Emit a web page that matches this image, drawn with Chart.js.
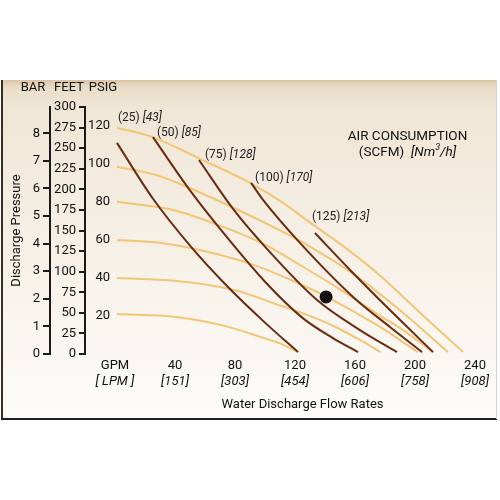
<!DOCTYPE html>
<html><head><meta charset="utf-8">
<script src="https://cdn.jsdelivr.net/npm/chart.js@4/dist/chart.umd.min.js"></script>
<style>html,body{margin:0;padding:0;background:#fff}canvas{display:block}</style>
</head><body>
<canvas id="c" width="500" height="500"></canvas>
<script>
// ---- tick labels / categories ----
const flowGpm = [0, 40, 80, 120, 160, 200, 240];
const flowLpm = ['[ LPM ]', '[151]', '[303]', '[454]', '[606]', '[758]', '[908]'];
const airScfm = ['(25)', '(50)', '(75)', '(100)', '(125)'];
const airNm3 = ['[43]', '[85]', '[128]', '[170]', '[213]'];

// ---- inlet air pressure curves (GPM, PSIG) ----
const psi20_gpm = [1.3, 41, 75, 97, 110, 122];
const psi20_psi = [21, 19.5, 14.4, 8.9, 5.6, 1];
const psi40_gpm = [1.3, 40, 80, 110, 125, 145, 163, 177];
const psi40_psi = [40, 38.5, 33.5, 25.5, 21.5, 15, 7.5, 1];
const psi60_gpm = [1.3, 30, 60, 90, 120, 145, 175, 202];
const psi60_psi = [60, 58.5, 54, 47.5, 38, 28.5, 15, 1];
const psi80_gpm = [1.3, 40, 70, 100, 125, 150, 175, 195, 212];
const psi80_psi = [80, 75.5, 67.5, 57.5, 46, 34, 21, 11, 1];
const psi100_gpm = [1.3, 30, 52, 80, 110, 130, 160, 190, 222];
const psi100_psi = [98.5, 93.5, 86.5, 76.5, 65, 56.5, 41.5, 23, 1];
const psi120_gpm = [1.3, 25, 57, 90, 110, 132, 155, 177, 203, 232];
const psi120_psi = [119, 114, 102.5, 90, 80.5, 68, 55, 41, 22, 1];

// ---- air consumption curves (GPM, PSIG) ----
const air25_gpm = [1.3, 25, 50, 75, 100, 122];
const air25_psi = [111, 82, 57, 35.5, 16.5, 1];
const air50_gpm = [25.3, 50, 75, 100, 125, 145, 162];
const air50_psi = [114, 86, 61, 38, 19, 8.5, 1];
const air75_gpm = [56, 78.7, 101.3, 134.7, 163.3, 188];
const air75_psi = [102, 76.3, 55.3, 28.4, 12.6, 1];
const air100_gpm = [90.7, 98.7, 123.3, 158.7, 183.3, 204.7];
const air100_psi = [90, 81, 58.4, 30, 14.2, 1];
const air125_gpm = [133.3, 156.7, 183.3, 212];
const air125_psi = [63.6, 44.2, 23.1, 1];

// ---- example duty point ----
const duty_gpm = [140.7];
const duty_psi = [30];

// ---- unit conversions ----
const FEET_MAX = 300;
const PSI_MAX = FEET_MAX / 2.31;
const BAR_MAX = PSI_MAX / 14.5038;

const FAM = '"Liberation Sans Narrow", "Arial Narrow", Roboto, "Liberation Sans", sans-serif';
Chart.defaults.font.family = FAM;
Chart.defaults.font.size = 13;
Chart.defaults.color = '#111';

const pts = (xs, ys) => xs.map((x, i) => ({x: x, y: ys[i]}));
const BROWN = '#6b2b10';
const YELLOW = '#f2c674';

const airSets = [[air25_gpm, air25_psi], [air50_gpm, air50_psi], [air75_gpm, air75_psi], [air100_gpm, air100_psi], [air125_gpm, air125_psi]];
const psiSets = [[psi20_gpm, psi20_psi], [psi40_gpm, psi40_psi], [psi60_gpm, psi60_psi], [psi80_gpm, psi80_psi], [psi100_gpm, psi100_psi], [psi120_gpm, psi120_psi]];

const datasets = [];
datasets.push({label: 'duty', data: pts(duty_gpm, duty_psi), xAxisID: 'x', yAxisID: 'y', showLine: false, pointRadius: 6.5, pointBackgroundColor: '#111', pointBorderWidth: 0, order: 0});
airSets.forEach((s, i) => datasets.push({label: airScfm[i], data: pts(s[0], s[1]), xAxisID: 'x', yAxisID: 'y', borderColor: BROWN, borderWidth: 2, pointRadius: 0, cubicInterpolationMode: 'monotone', order: 1}));
psiSets.forEach((s, i) => datasets.push({label: 'psi' + i, data: pts(s[0], s[1]), xAxisID: 'x', yAxisID: 'y', borderColor: YELLOW, borderWidth: 2, pointRadius: 0, cubicInterpolationMode: 'monotone', order: 2}));

const decor = {
  id: 'decor',
  beforeDraw(chart) {
    const ctx = chart.ctx;
    ctx.save();
    const g = ctx.createLinearGradient(0, 80, 0, 420);
    g.addColorStop(0, '#e9dbc4');
    g.addColorStop(0.08, '#f0e6d6');
    g.addColorStop(0.5, '#f6f0e7');
    g.addColorStop(1, '#fdfcfa');
    ctx.fillStyle = g;
    ctx.fillRect(2, 80, 495, 339);
    const t = ctx.createLinearGradient(0, 80, 0, 90);
    t.addColorStop(0, '#d8c3a3');
    t.addColorStop(1, 'rgba(232,218,196,0)');
    ctx.fillStyle = t;
    ctx.fillRect(2, 80, 495, 10);
    ctx.fillStyle = '#3a2e24';
    ctx.fillRect(1, 80, 2, 340);
    ctx.fillStyle = '#1e1e1e';
    ctx.fillRect(1, 418, 496, 2);
    ctx.fillStyle = '#d9d4cc';
    ctx.fillRect(496, 80, 1, 339);
    ctx.restore();
  },
  afterDatasetsDraw(chart) {
    const ctx = chart.ctx;
    const sx = chart.scales.x, sy = chart.scales.y;
    const ca = chart.chartArea;
    ctx.save();
    ctx.fillStyle = '#111';
    ctx.textBaseline = 'middle';
    ctx.textAlign = 'center';
    ctx.font = '13px ' + FAM;
    ctx.fillText('BAR', chart.scales.bar.right - 17, ca.top - 19);
    ctx.fillText('FEET', chart.scales.feet.right - 16, ca.top - 19);
    ctx.fillText('PSIG', chart.scales.y.right - 12, ca.top - 19);

    // air consumption labels next to each curve start
    const offs = [[1, -25], [4, -4], [6, -5], [4, -5], [-3, -16]];
    ctx.textAlign = 'left';
    airSets.forEach((s, i) => {
      const px = sx.getPixelForValue(s[0][0]) + offs[i][0];
      const py = sy.getPixelForValue(s[1][0]) + offs[i][1];
      ctx.font = '12px ' + FAM;
      ctx.fillStyle = '#222';
      ctx.fillText(airScfm[i], px, py);
      const w = ctx.measureText(airScfm[i] + ' ').width;
      ctx.font = 'italic 12px ' + FAM;
      ctx.fillText(airNm3[i], px + w, py);
    });

    // legend-like title
    const cx = sx.getPixelForValue(195);
    ctx.textAlign = 'center';
    ctx.font = '13.5px ' + FAM;
    ctx.fillStyle = '#111';
    ctx.fillText('AIR CONSUMPTION', cx, ca.top + 30);
    const y2 = ca.top + 46;
    const a = '(SCFM)  ';
    const wa = ctx.measureText(a).width;
    ctx.font = 'italic 13.5px ' + FAM;
    const b1 = '[Nm', b2 = '/h]';
    const wb1 = ctx.measureText(b1).width, wb2 = ctx.measureText(b2).width;
    ctx.font = 'italic 9px ' + FAM;
    const w3 = ctx.measureText('3').width;
    const total = wa + wb1 + w3 + wb2;
    let x0 = cx - total / 2;
    ctx.textAlign = 'left';
    ctx.font = '13.5px ' + FAM;
    ctx.fillText(a, x0, y2); x0 += wa;
    ctx.font = 'italic 13.5px ' + FAM;
    ctx.fillText(b1, x0, y2); x0 += wb1;
    ctx.font = 'italic 9px ' + FAM;
    ctx.fillText('3', x0, y2 - 5); x0 += w3;
    ctx.font = 'italic 13.5px ' + FAM;
    ctx.fillText(b2, x0, y2);
    ctx.restore();
  }
};

const flowTicks = s => { s.ticks = flowGpm.map(v => ({value: v})); };

new Chart(document.getElementById('c'), {
  type: 'line',
  data: {datasets: datasets},
  plugins: [decor],
  options: {
    responsive: false,
    animation: false,
    devicePixelRatio: 1,
    layout: {padding: {left: 0, top: 107, right: 10, bottom: 84}},
    plugins: {legend: {display: false}, tooltip: {enabled: false}},
    scales: {
      x: {
        type: 'linear', position: 'bottom', min: 0, max: 250, weight: 1,
        afterBuildTicks: flowTicks,
        afterFit: s => { s.height = 18; },
        grid: {display: false, drawTicks: false},
        border: {display: false},
        ticks: {padding: 4, color: '#111', maxRotation: 0, autoSkip: false,
          callback: v => v === 0 ? 'GPM' : String(v)}
      },
      x2: {
        type: 'linear', position: 'bottom', min: 0, max: 250, weight: 2,
        afterBuildTicks: flowTicks,
        afterFit: s => { s.height = 44; },
        grid: {display: false, drawTicks: false},
        border: {display: false},
        ticks: {padding: 2, font: {style: 'italic'}, color: '#111', maxRotation: 0, autoSkip: false,
          callback: (v, i) => flowLpm[i]},
        title: {display: true, text: 'Water Discharge Flow Rates', color: '#111', padding: {top: 0, bottom: 3}}
      },
      bar: {
        type: 'linear', position: 'left', min: 0, max: BAR_MAX, weight: 3,
        afterFit: s => { s.width = 50; },
        grid: {display: true, drawOnChartArea: false, drawTicks: true, tickLength: 7, color: '#1a1a1a', lineWidth: 2},
        border: {display: true, color: '#1a1a1a', width: 2},
        ticks: {stepSize: 1, includeBounds: false, padding: 3, color: '#111'},
        title: {display: true, text: 'Discharge Pressure', color: '#111', padding: {top: 9, bottom: 0}}
      },
      feet: {
        type: 'linear', position: 'left', min: 0, max: FEET_MAX, weight: 2,
        afterFit: s => { s.width = 35; },
        grid: {display: true, drawOnChartArea: false, drawTicks: true, tickLength: 6, color: '#1a1a1a', lineWidth: 2},
        border: {display: true, color: '#1a1a1a', width: 2},
        ticks: {stepSize: 25, includeBounds: false, padding: 3, color: '#111'}
      },
      y: {
        type: 'linear', position: 'left', min: 0, max: PSI_MAX, weight: 1,
        afterFit: s => { s.width = 30; },
        grid: {display: false, drawTicks: false},
        border: {display: false},
        ticks: {stepSize: 20, includeBounds: false, padding: 5, color: '#111',
          callback: v => v === 0 ? '' : String(v)}
      }
    }
  }
});
</script>
</body></html>
